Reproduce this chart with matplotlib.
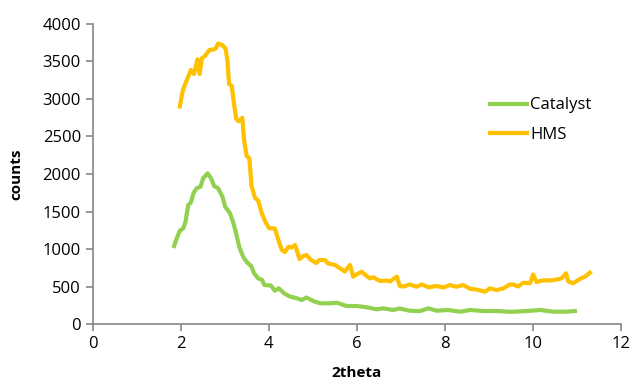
import matplotlib
matplotlib.use('Agg')
import matplotlib.pyplot as plt

# Catalyst (green)
cat_x = [1.85, 1.91, 1.98, 2.06, 2.11, 2.17, 2.23, 2.29, 2.36, 2.45, 2.51, 2.61,
         2.69, 2.76, 2.85, 2.95, 3.01, 3.12, 3.20, 3.25, 3.33, 3.42, 3.50, 3.60,
         3.67, 3.76, 3.85, 3.90, 4.05, 4.14, 4.23, 4.35, 4.48, 4.64, 4.75, 4.86,
         5.01, 5.17, 5.39, 5.55, 5.77, 6.00, 6.23, 6.45, 6.60, 6.83, 6.98, 7.21,
         7.44, 7.63, 7.82, 8.08, 8.35, 8.58, 8.88, 9.18, 9.45, 9.56, 9.86, 10.17,
         10.47, 10.77, 10.96]
cat_y = [1040, 1143, 1244, 1276, 1364, 1587, 1617, 1743, 1809, 1831, 1943, 2009,
         1943, 1840, 1809, 1697, 1564, 1476, 1343, 1231, 1031, 897, 827, 773,
         676, 609, 587, 520, 513, 444, 476, 409, 367, 343, 320, 353,
         307, 276, 276, 284, 240, 240, 223, 196, 209, 187, 207, 177,
         173, 209, 177, 187, 164, 187, 173, 173, 164, 164, 173, 187,
         164, 164, 173]

# HMS (orange)
hms_x = [1.98, 2.05, 2.14, 2.23, 2.30, 2.38, 2.43, 2.48, 2.55, 2.65, 2.76, 2.80,
         2.85, 2.94, 3.02, 3.06, 3.10, 3.16, 3.21, 3.26, 3.31, 3.40, 3.44, 3.50,
         3.56, 3.61, 3.69, 3.76, 3.84, 3.92, 4.01, 4.10, 4.14, 4.22, 4.30, 4.37,
         4.45, 4.52, 4.60, 4.70, 4.79, 4.86, 4.95, 5.08, 5.15, 5.28, 5.35, 5.51,
         5.62, 5.73, 5.85, 5.92, 6.04, 6.11, 6.23, 6.30, 6.38, 6.53, 6.68, 6.76,
         6.91, 6.98, 7.06, 7.21, 7.36, 7.48, 7.63, 7.82, 7.97, 8.12, 8.27, 8.42,
         8.58, 8.73, 8.92, 9.03, 9.18, 9.33, 9.48, 9.56, 9.67, 9.79, 9.94, 10.01,
         10.09, 10.24, 10.39, 10.55, 10.66, 10.76, 10.81, 10.92, 11.07, 11.19, 11.30]
hms_y = [2900, 3120, 3253, 3387, 3333, 3529, 3333, 3543, 3573, 3653, 3662, 3676,
         3740, 3720, 3673, 3520, 3200, 3173, 2943, 2740, 2703, 2749, 2453, 2240,
         2209, 1840, 1680, 1647, 1480, 1367, 1276, 1276, 1273, 1120, 987, 960,
         1031, 1020, 1053, 867, 907, 920, 860, 813, 853, 853, 807, 787,
         743, 700, 787, 631, 676, 697, 640, 609, 623, 573, 580, 567,
         633, 507, 500, 527, 497, 527, 489, 507, 487, 520, 497, 520,
         469, 459, 431, 476, 453, 473, 527, 527, 500, 551, 543, 660,
         560, 583, 580, 593, 609, 676, 567, 543, 600, 631, 684]

plt.rcParams['font.family'] = ['Open Sans', 'DejaVu Sans']
fig = plt.figure(figsize=(6.32, 3.85), dpi=100)
ax = fig.add_axes([0.1467, 0.1584, 0.8353, 0.7793])

ax.plot(cat_x, cat_y, color='#92D050', lw=3, label='Catalyst')
ax.plot(hms_x, hms_y, color='#FFC000', lw=3, label='HMS')

ax.set_xlim(0, 12)
ax.set_ylim(0, 4000)
ax.set_xticks(range(0, 13, 2))
ax.set_yticks(range(0, 4001, 500))

for s in ['top', 'right']:
    ax.spines[s].set_visible(False)
for s in ['left', 'bottom']:
    ax.spines[s].set_color('#868686')
    ax.spines[s].set_linewidth(1.2)
ax.tick_params(axis='both', colors='#868686', direction='out', length=5,
               width=1.2, labelsize=12, labelcolor='black')

ax.set_xlabel('2theta', fontsize=11, fontweight='bold', labelpad=10)
ax.set_ylabel('counts', fontsize=11, fontweight='bold', labelpad=14)

leg = ax.legend(loc='upper left', bbox_to_anchor=(0.725, 0.805), frameon=False,
                fontsize=12, handlelength=2.2, handletextpad=0.2,
                labelspacing=0.83)

fig.savefig('out.png', dpi=100)
